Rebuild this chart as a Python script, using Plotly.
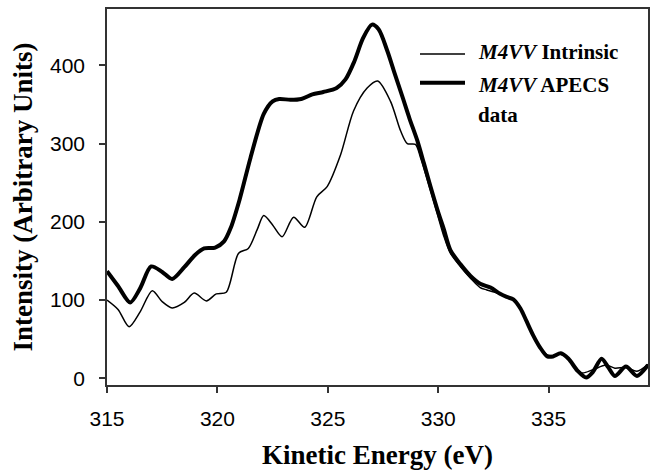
import plotly.graph_objects as go

# Kinetic energy (eV) and intensities
apecs_E = [315.0, 315.5, 316.05, 316.5, 317.0, 317.5, 317.95, 318.5, 319.0, 319.4, 319.9,
           320.3, 320.6, 321.0, 321.5, 322.1, 322.5, 322.8, 323.3, 323.8, 324.3, 324.8,
           325.4, 325.8, 326.2, 326.6, 327.0, 327.3, 327.7, 328.0, 328.4, 328.7, 329.05,
           329.35, 329.65, 330.0, 330.25, 330.55, 331.0, 331.46, 331.9, 332.37, 332.8,
           333.1, 333.4, 333.73, 334.0, 334.3, 334.6, 334.94, 335.2, 335.55, 335.9,
           336.3, 336.7, 337.0, 337.4, 337.7, 338.0, 338.5, 339.0, 339.5]
apecs_I = [137, 118, 97, 115, 143, 136, 127, 142, 158, 166, 167,
           175, 192, 228, 282, 338, 354, 357, 356, 357, 363, 366,
           371, 382, 405, 435, 452, 446, 418, 392, 358, 332, 304,
           275, 245, 212, 191, 164, 146, 131, 121, 116, 108,
           104, 101, 89, 73, 55, 40, 28, 28, 32, 25,
           10, 1, 8, 25, 14, 3, 15, 3, 17]

intr_E = [315.0, 315.5, 316.0, 316.5, 317.05, 317.5, 317.95, 318.5, 318.95, 319.5, 319.95,
          320.4, 320.96, 321.4, 321.8, 322.1, 322.5, 322.93, 323.45, 323.95, 324.5,
          324.97, 325.57, 326.17, 326.78, 327.26, 327.84, 328.3, 328.6, 328.97, 329.2,
          329.8, 330.25, 330.55, 331.0, 331.46, 331.9, 332.2, 332.8, 333.1, 333.4,
          333.73, 334.0, 334.3, 334.6, 334.94, 335.2, 335.55, 335.9, 336.5, 337.0,
          337.6, 338.0, 338.5, 339.0, 339.5]
intr_I = [100, 88, 66, 85, 112, 98, 90, 97, 109, 99, 108,
          110, 160, 166, 190, 208, 196, 181, 206, 193, 232,
          245, 285, 342, 371, 380, 354, 316, 300, 299, 282,
          226, 182, 160, 143, 128, 116, 113, 108, 104, 101,
          89, 73, 55, 40, 30, 29, 31, 24, 7, 11,
          17, 13, 14, 9, 18]

x_ticks = [315, 320, 325, 330, 335]
y_ticks = [0, 100, 200, 300, 400]

W, H = 657, 472
L, R, T, B = 107, 9, 7, 85
pw, ph = W - L - R, H - T - B

def px(x):
    return (x - L) / pw

def py(y):
    return (H - B - y) / ph

fig = go.Figure()
fig.add_trace(go.Scatter(x=intr_E, y=intr_I, mode="lines",
                         line=dict(color="black", width=1.5, shape="spline", smoothing=0.8),
                         name="M4VV Intrinsic", showlegend=False))
fig.add_trace(go.Scatter(x=apecs_E, y=apecs_I, mode="lines",
                         line=dict(color="black", width=4, shape="spline", smoothing=0.8),
                         name="M4VV APECS data", showlegend=False))

# legend drawn manually
fig.add_shape(type="line", xref="paper", yref="paper", x0=px(420), x1=px(465),
              y0=py(52.5), y1=py(52.5), line=dict(color="black", width=1.5))
fig.add_shape(type="line", xref="paper", yref="paper", x0=px(420), x1=px(465),
              y0=py(81.5), y1=py(81.5), line=dict(color="black", width=4))
leg_font = dict(family="Liberation Serif", size=21, color="black")
for txt, yy in [("<b><i>M4VV</i> Intrinsic</b>", 50.5),
                ("<b><i>M4VV</i> APECS</b>", 83.5),
                ("<b>data</b>", 114)]:
    fig.add_annotation(text=txt, xref="paper", yref="paper", x=px(476), y=py(yy),
                       xanchor="left", yanchor="middle", showarrow=False, font=leg_font)

axis_common = dict(showline=True, linecolor="#333", linewidth=1.5, mirror=True,
                   ticks="outside", ticklen=6, tickcolor="#333", tickwidth=1.5,
                   showgrid=False, zeroline=False,
                   tickfont=dict(family="Liberation Sans", size=21, color="black"))

fig.update_layout(
    width=W, height=H,
    margin=dict(l=L, r=R, t=T, b=B),
    paper_bgcolor="white", plot_bgcolor="white",
    xaxis=dict(range=[315, 339.5], tickvals=x_ticks, ticklabelstandoff=8,
               title=dict(text="<b>Kinetic Energy (eV)</b>", standoff=16,
                          font=dict(family="Liberation Serif", size=27, color="black")),
               **axis_common),
    yaxis=dict(range=[-8.5, 472], tickvals=y_ticks, ticklabelstandoff=10,
               title=dict(text="<b>Intensity (Arbitrary Units)</b>", standoff=10,
                          font=dict(family="Liberation Serif", size=27, color="black")),
               **axis_common),
)

fig.write_html("out.html")
